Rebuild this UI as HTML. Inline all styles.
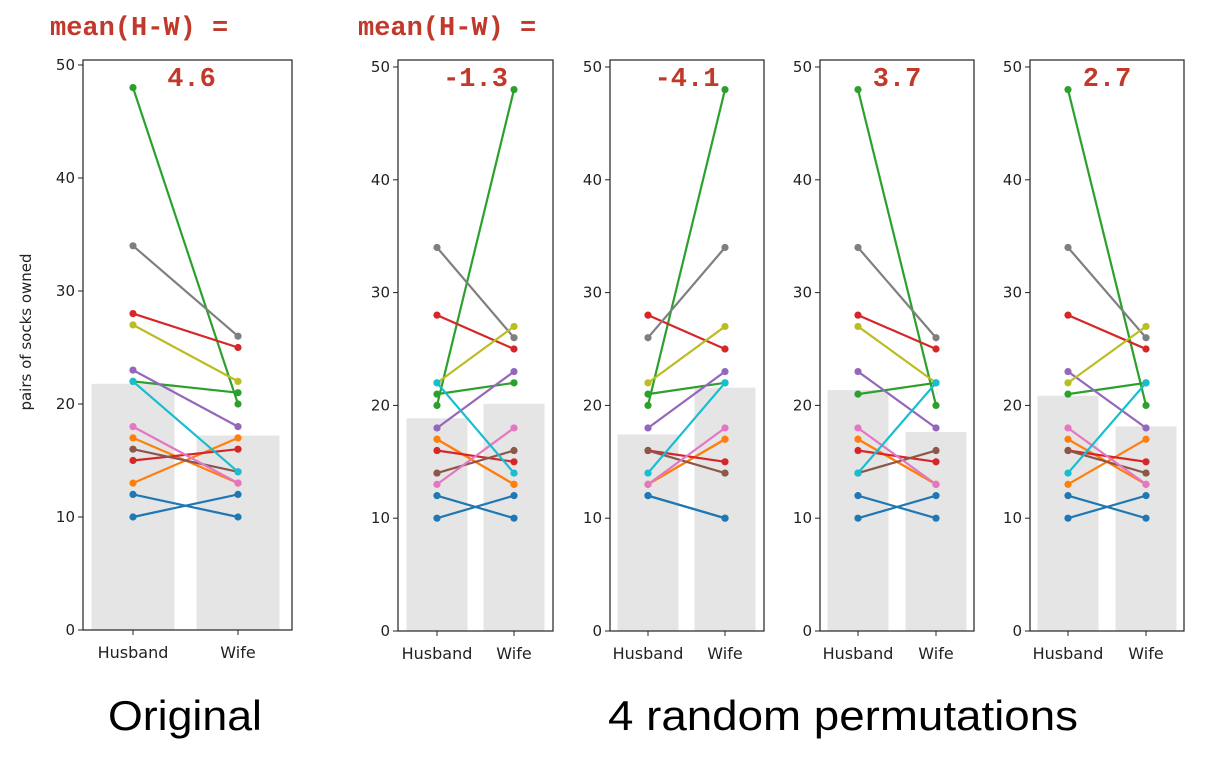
<!DOCTYPE html>
<html><head><meta charset="utf-8"><style>
body{margin:0;background:#fff;width:1220px;height:756px;overflow:hidden}
svg text{font-family:"DejaVu Sans","Liberation Sans",sans-serif}
svg text.cap{font-family:"Liberation Sans",sans-serif;font-weight:normal}
svg text.hand{font-family:"Liberation Mono",monospace;fill:#c0392b;font-weight:bold}
</style></head><body>
<svg id="fig" width="1220" height="756">
<text class="hand" x="50" y="35" font-size="27">mean(H-W) =</text>
<text class="hand" x="358" y="35" font-size="27">mean(H-W) =</text>
<text class="cap" x="108" y="730" font-size="42" textLength="154" lengthAdjust="spacingAndGlyphs">Original</text>
<text class="cap" x="608" y="730" font-size="42" textLength="470" lengthAdjust="spacingAndGlyphs">4 random permutations</text>
<text transform="translate(31,332) rotate(-90)" font-size="15" text-anchor="middle" fill="#222">pairs of socks owned</text>
</svg>
<script>
const colors=["#1f77b4","#1f77b4","#ff7f0e","#ff7f0e","#2ca02c","#2ca02c","#d62728","#d62728","#9467bd","#8c564b","#e377c2","#7f7f7f","#bcbd22","#17becf"];
const categories=["Husband","Wife"];
const yTicks=[0,10,20,30,40,50];
const meanLabels=["4.6","-1.3","-4.1","3.7","2.7"];
const husband0=[10,12,13,17,48,22,28,15,23,16,18,34,27,22];
const wife0=[12,10,17,13,20,21,25,16,18,14,13,26,22,14];
const husband1=[10,12,17,17,20,21,28,16,18,14,13,34,22,22];
const wife1=[12,10,13,13,48,22,25,15,23,16,18,26,27,14];
const husband2=[12,12,13,13,20,21,28,16,18,16,13,26,22,14];
const wife2=[10,10,17,17,48,22,25,15,23,14,18,34,27,22];
const husband3=[10,12,17,17,48,21,28,16,23,14,18,34,27,14];
const wife3=[12,10,13,13,20,22,25,15,18,16,13,26,22,22];
const husband4=[10,12,13,17,48,21,28,16,23,16,18,34,22,14];
const wife4=[12,10,17,13,20,22,25,15,18,14,13,26,27,22];
const H=[husband0,husband1,husband2,husband3,husband4];
const W=[wife0,wife1,wife2,wife3,wife4];
const panels=[
 {l:83,r:292,top:60,y0:630,y50:65,xh:133,xw:238,bw:83},
 {l:398,r:553,top:60,y0:631,y50:67,xh:437,xw:514,bw:61},
 {l:610,r:764,top:60,y0:631,y50:67,xh:648,xw:725,bw:61},
 {l:820,r:974,top:60,y0:631,y50:67,xh:858,xw:936,bw:61},
 {l:1030,r:1184,top:60,y0:631,y50:67,xh:1068,xw:1146,bw:61}];
const svg=document.getElementById('fig');
const NS="http://www.w3.org/2000/svg";
function mk(t,a,p){const e=document.createElementNS(NS,t);for(const k in a)e.setAttribute(k,a[k]);(p||svg).appendChild(e);return e;}
panels.forEach((P,i)=>{
 const g=mk('g',{});
 
 
 const y=v=>P.y0+(P.y50-P.y0)*v/50;
 const hs=H[i],ws=W[i];
 const mh=hs.reduce((a,b)=>a+b,0)/hs.length, mw=ws.reduce((a,b)=>a+b,0)/ws.length;
 [[P.xh,mh,'husband'],[P.xw,mw,'wife']].forEach(([x,m,n])=>{
  const b=mk('rect',{x:x-P.bw/2,y:y(m),width:P.bw,height:P.y0-y(m),fill:'#e5e5e5'},g);
  
  
 });
 hs.forEach((h,j)=>{
  const w=ws[j];
  const l=mk('line',{x1:P.xh,y1:y(h),x2:P.xw,y2:y(w),stroke:colors[j],'stroke-width':2.2},g);
  
  
  mk('circle',{cx:P.xh,cy:y(h),r:3.6,fill:colors[j]},g);
  mk('circle',{cx:P.xw,cy:y(w),r:3.6,fill:colors[j]},g);
 });
 const f=mk('rect',{x:P.l,y:P.top,width:P.r-P.l,height:P.y0-P.top,fill:'none',stroke:'#222','stroke-width':1.2},g);
 
 
 yTicks.forEach(t=>{
  mk('line',{x1:P.l-5,x2:P.l,y1:y(t),y2:y(t),stroke:'#222'},g);
  const tx=mk('text',{x:P.l-8,y:y(t)+5,'font-size':15,'text-anchor':'end',fill:'#222'},g);
  tx.textContent=t;
  
  
 });
 [P.xh,P.xw].forEach((x,k)=>{
  mk('line',{x1:x,x2:x,y1:P.y0,y2:P.y0+5,stroke:'#222'},g);
  const tx=mk('text',{x:x,y:P.y0+28,'font-size':16,'text-anchor':'middle',fill:'#222'},g);
  tx.textContent=categories[k];
  
  
 });
 const ml=mk('text',{x:(P.l+P.r)/2+(i==0?4:0),y:86,'font-size':27,'text-anchor':'middle','class':'hand'},g);
 ml.textContent=meanLabels[i];
 
 
});
</script>
</body></html>
